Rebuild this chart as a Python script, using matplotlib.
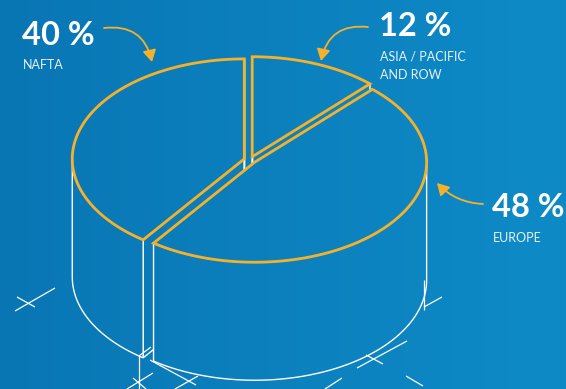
import numpy as np
import matplotlib
matplotlib.use('Agg')
import matplotlib.pyplot as plt
from matplotlib.patches import Polygon, FancyArrowPatch

# ---- data (counter-clockwise from 12 o'clock) ----
regions = ['NAFTA', 'EUROPE', 'ASIA / PACIFIC\nAND ROW']
shares = [40, 48, 12]
pct_labels = ['40 %', '48 %', '12 %']

W, H = 566, 389
ORANGE = '#f6b12b'
WHITE = '#ffffff'

fig = plt.figure(figsize=(W / 100, H / 100), dpi=100)
ax = fig.add_axes([0, 0, 1, 1])
ax.axis('off')

# background gradient
xs = np.linspace(0, 1, 256)
c0 = np.array([9, 118, 180]) / 255
c1 = np.array([14, 139, 199]) / 255
grad = (c0[None, :] * (1 - xs[:, None]) + c1[None, :] * xs[:, None])[None, :, :]
grad = np.repeat(grad, 2, axis=0)
ax.imshow(grad, extent=[0, W, H, 0], aspect='auto', zorder=0, interpolation='bilinear')

# pie geometry (pixel space)
cx, cy = 250, 160
a, b = 172, 100
d = 0.035
h = 118


def pt(theta, r, off, z=0.0):
    t = np.radians(theta)
    return (cx + a * (off[0] + r * np.cos(t)), cy - b * (off[1] + r * np.sin(t)) + z)


def bg_poly(verts, z, edgecolor, lw):
    p = Polygon(verts, closed=True, facecolor='none', edgecolor=edgecolor, lw=lw,
                joinstyle='miter', zorder=z + 0.05)
    ax.add_patch(p)
    im = ax.imshow(grad, extent=[0, W, H, 0], aspect='auto', zorder=z,
                   interpolation='bilinear')
    im.set_clip_path(p)


angles = np.cumsum([0] + [s * 3.6 for s in shares]) + 90
wedges = []
for i, s in enumerate(shares):
    t0, t1 = angles[i], angles[i + 1]
    tm = np.radians((t0 + t1) / 2)
    off = (d * np.cos(tm), d * np.sin(tm))
    wedges.append((regions[i], t0, t1, off))

# draw order: back to front
draw_order = ['ASIA / PACIFIC\nAND ROW', 'NAFTA', 'EUROPE']
for k, name in enumerate(draw_order):
    _, t0, t1, off = [w for w in wedges if w[0] == name][0]
    base = 1 + k
    # radial faces
    for tt, nrm in ((t0, t0 - 90), (t1, t1 + 90)):
        if np.sin(np.radians(nrm)) < 1e-6:
            verts = [pt(tt, 0, off), pt(tt, 1, off), pt(tt, 1, off, h), pt(tt, 0, off, h)]
            bg_poly(verts, base + 0.1, WHITE, 1.0)
    # outer curved face (front half only)
    for lo, hi in ((180, 360), (540, 720)):
        s0, s1 = max(t0, lo), min(t1, hi)
        if s1 > s0:
            ts = np.linspace(s0, s1, 120)
            top = [pt(t, 1, off) for t in ts]
            bot = [pt(t, 1, off, h) for t in ts[::-1]]
            bg_poly(top + bot, base + 0.2, WHITE, 1.0)
    # top face
    ts = np.linspace(t0, t1, 200)
    verts = [pt(t0, 0, off)] + [pt(t, 1, off) for t in ts]
    bg_poly(verts, base + 0.3, ORANGE, 2.0)

# construction marks (decoration)
deco = [
    ((139, 356), (139, 389)),
    ((139, 356), (151, 347)),
    ((150, 360), (196, 385)),
    ((15, 311), (55, 288)), ((17, 297), (35, 307)),
    ((127, 389), (153, 373)), ((133, 378), (146, 389)),
    ((175, 389), (198, 376)),
    ((357, 368), (407, 341)), ((366, 355), (383, 364)),
    ((325, 389), (342, 378)),
    ((406, 376), (423, 386)),
    ((424, 280), (424, 310)), ((424, 307), (442, 297)),
]
for p0, p1 in deco:
    ax.plot([p0[0], p1[0]], [p0[1], p1[1]], color=WHITE, lw=0.9, zorder=6,
            solid_capstyle='butt')

# labels
FONT = 'Lato'
lab_pos = {
    'NAFTA': (22, 45, 69),
    'ASIA / PACIFIC\nAND ROW': (379, 36, 60),
    'EUROPE': (492, 217, 242),
}
for name, pct in zip(regions, pct_labels):
    x, yb, ys = lab_pos[name]
    ax.text(x, yb, pct, color='white', fontsize=23.5, fontweight='bold',
            family=FONT, va='baseline', ha='left', zorder=10)
    for j, line in enumerate(name.split('\n')):
        ax.text(x + 1, ys + 19 * j, line, color='#e8f2fa', fontsize=9,
                family=FONT, va='baseline', ha='left', zorder=10)

# arrows
arrows = [((104, 28), (152, 62), 'arc3,rad=-0.45'),
          ((368, 27), (321, 61), 'arc3,rad=0.45'),
          ((483, 204), (437, 183), 'arc3,rad=-0.2')]
for p0, p1, cs in arrows:
    ax.add_patch(FancyArrowPatch(p0, p1, connectionstyle=cs,
                                 arrowstyle='-|>,head_length=7,head_width=4',
                                 color=ORANGE, lw=1.3, zorder=10,
                                 shrinkA=0, shrinkB=0))

ax.set_xlim(0, W)
ax.set_ylim(H, 0)
fig.savefig('out.png', dpi=100)
